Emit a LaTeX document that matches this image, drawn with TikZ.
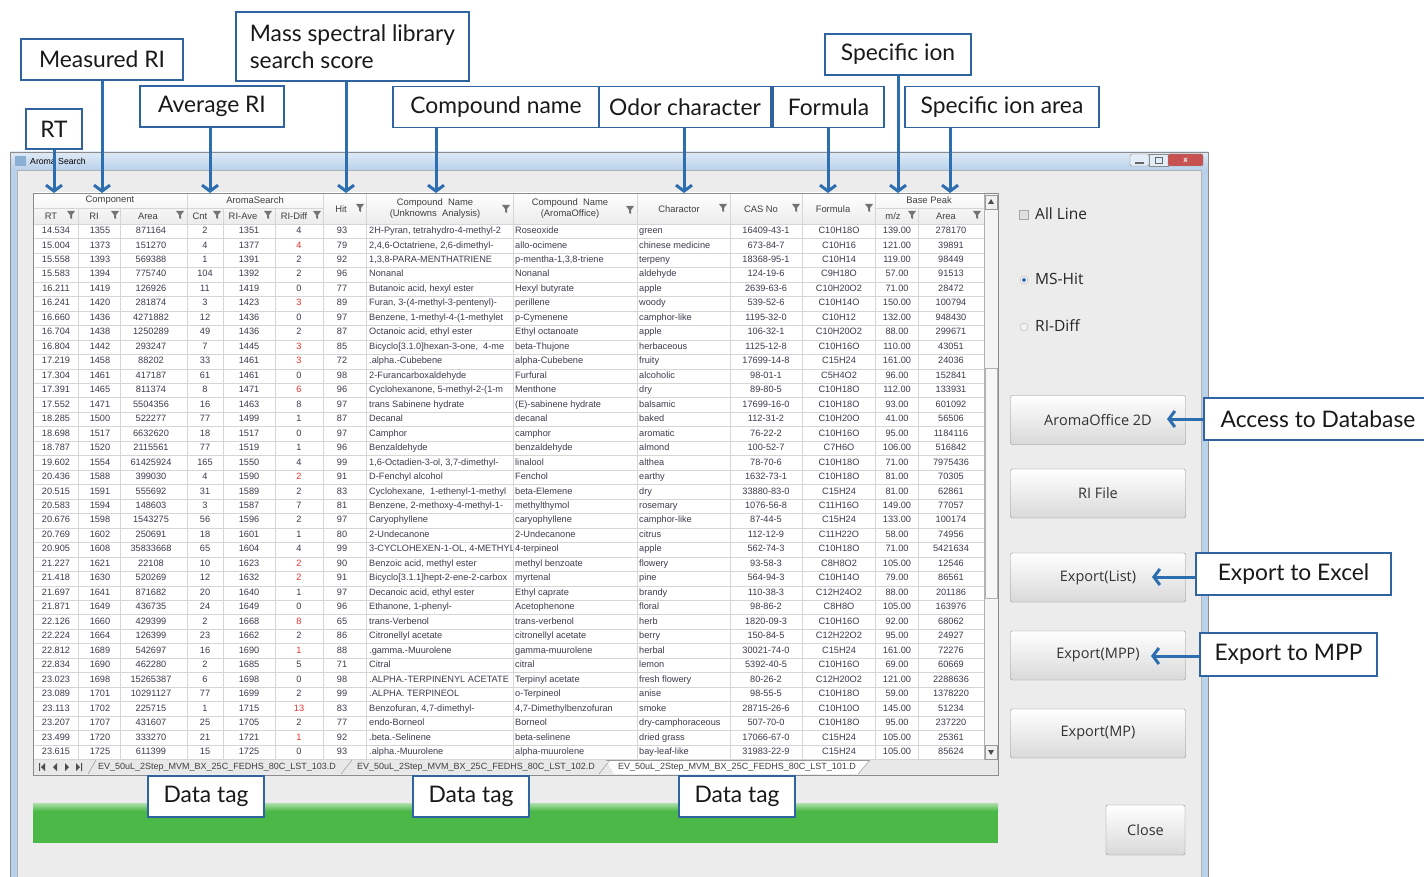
\documentclass[tikz,border=0pt]{standalone}
\usepackage{fontspec}
\setmainfont{Liberation Sans}
\newfontfamily\lblfont{Lato}
\newfontfamily\uifont{Open Sans}
\usetikzlibrary{arrows.meta,positioning,calc}

\definecolor{boxblue}{RGB}{47,100,160}
\definecolor{arrblue}{RGB}{44,110,176}
\definecolor{winframe}{RGB}{185,209,234}
\definecolor{client}{RGB}{236,236,236}
\definecolor{gridc}{RGB}{214,214,214}
\definecolor{hdrfill}{RGB}{236,236,236}
\definecolor{celltxt}{RGB}{60,60,78}
\definecolor{diffred}{RGB}{228,50,45}
\definecolor{greenbar}{RGB}{76,184,72}
\definecolor{btnline}{RGB}{140,140,140}

\tikzset{
  lbl/.style={draw=boxblue, line width=1.6pt, fill=white, inner sep=0pt, minimum height=41pt,
    font=\lblfont\fontsize{22.8}{27}\selectfont, text=black!90},
  callout/.style={draw=arrblue, line width=3pt, -{Straight Barb[length=6pt,width=16pt]}},
  cell/.style={font=\fontsize{9.2}{11}\selectfont, text=celltxt, inner sep=0pt, text height=6.6pt, text depth=1.9pt},
  hdr/.style={font=\fontsize{9.4}{11}\selectfont, text=black!75, inner sep=0pt, align=center},
  btn/.style={draw=btnline, rounded corners=2pt, top color=white, bottom color=black!15,
    minimum width=175pt, minimum height=49pt, font=\uifont\fontsize{14.5}{17}\selectfont, text=black!80},
  opt/.style={font=\uifont\fontsize{15.5}{17}\selectfont, text=black!85, anchor=west, inner sep=0pt},
  tabtext/.style={font=\fontsize{9}{10}\selectfont, text=black!75, inner sep=0pt},
  funnel/.pic={\fill[black!55] (-4,-4) -- (4,-4) -- (1,0) -- (1,4) -- (-1,3) -- (-1,0) -- cycle;}
}

\begin{document}
\begin{tikzpicture}[x=1pt, y=-1pt]
\useasboundingbox (0,0) rectangle (1424,877);
\fill[white] (0,0) rectangle (1424,877);

% window
\fill[winframe] (10,152) rectangle (1208,877);
\shade[top color=winframe!45, bottom color=winframe] (10,152) rectangle (1208,170);
\draw[black!45] (10,877) -- (10,152) -- (1208,152) -- (1208,877);
\fill[client] (17,170) rectangle (1201,877);
\draw[black!30] (17,877) -- (17,170) -- (1201,170) -- (1201,877);
\fill[arrblue!55] (15,156) rectangle (26,166);
\node[font=\fontsize{8.7}{9}\selectfont, anchor=west, inner sep=0pt] (title) at (30,161) {Aroma Search};
\node[draw=black!45, fill=winframe!40, rounded corners=1.5pt, minimum width=19pt, minimum height=12pt, inner sep=0pt] (wmin) at (1139.5,160) {};
\node[draw=black!45, fill=winframe!40, minimum width=19pt, minimum height=12pt, inner sep=0pt] (wmax) at (1158.5,160) {};
\node[draw=black!45, fill={rgb,255:red,199;green,80;blue,80}, rounded corners=1.5pt, minimum width=35pt, minimum height=12pt, inner sep=0pt,
  text=white, font=\bfseries\fontsize{8}{8}\selectfont] (wclose) at (1185.5,160) {x};
\draw[black!60, line width=1.2pt] (1135,163) -- (1144,163);
\draw[black!60] (1155,157) rectangle (1162,163);

% table
\fill[white] (34,193) rectangle (984,760);
\shade[top color=white, bottom color=hdrfill] (34,193) rectangle (984,224);
\foreach \r in {0,...,37}
  \draw[gridc] (34,224+\r*14.47) -- (984,224+\r*14.47);
\foreach \x in {187,323,366,513,637,730,802,875}
  \draw[gridc] (\x,193) -- (\x,759.4);
\foreach \x in {78,120,223,275,918}
  \draw[gridc] (\x,208) -- (\x,759.4);
\draw[gridc] (34,208) -- (323,208);
\draw[gridc] (875,208) -- (984,208);

% header
\node[hdr] (hcomp) at (110,200.5) {Component};
\node[hdr] (hsearch) at (255,200.5) {AromaSearch};
\node[hdr] (hpeak) at (929,200.5) {Base Peak};
\foreach \hx/\hy/\hlab/\fx [count=\i] in {51/216/RT/71, 94/216/RI/115, 148/216/Area/180, 200/216/Cnt/217,
    243/216/RI-Ave/268, 294/216/RI-Diff/317, 893/216/m\slash z/912, 946/216/Area/977,
    341/209/Hit/360, 679/209/Charactor/723, 761/209/CAS No/796, 833/209/Formula/869}{
  \node[hdr] (h\i) at (\hx,\hy) {\hlab};
  \pic at (\fx,\hy-1) {funnel};
}
\node[hdr] (hunk) at (435,209) {Compound\ \ Name\\(Unknowns\ \ Analysis)};
\pic at (506,209) {funnel};
\node[hdr] (hao) at (570,209) {Compound\ \ Name\\(AromaOffice)};
\pic at (630,210) {funnel};

% rows
\foreach \rt/\ri/\area/\cnt/\ave/\dif/\dc/\hit/\cu/\ca/\chr/\cas/\fm/\mz/\pa [count=\r] in {
14.534/1355/871164/2/1351/4/celltxt/93/{2H-Pyran, tetrahydro-4-methyl-2}/Roseoxide/green/16409-43-1/C10H18O/139.00/278170,
15.004/1373/151270/4/1377/4/diffred/79/{2,4,6-Octatriene, 2,6-dimethyl-}/allo-ocimene/chinese medicine/673-84-7/C10H16/121.00/39891,
15.558/1393/569388/1/1391/2/celltxt/92/{1,3,8-PARA-MENTHATRIENE}/{p-mentha-1,3,8-triene}/terpeny/18368-95-1/C10H14/119.00/98449,
15.583/1394/775740/104/1392/2/celltxt/96/Nonanal/Nonanal/aldehyde/124-19-6/C9H18O/57.00/91513,
16.211/1419/126926/11/1419/0/celltxt/77/{Butanoic acid, hexyl ester}/Hexyl butyrate/apple/2639-63-6/C10H20O2/71.00/28472,
16.241/1420/281874/3/1423/3/diffred/89/{Furan, 3-(4-methyl-3-pentenyl)-}/perillene/woody/539-52-6/C10H14O/150.00/100794,
16.660/1436/4271882/12/1436/0/celltxt/97/{Benzene, 1-methyl-4-(1-methylet}/p-Cymenene/camphor-like/1195-32-0/C10H12/132.00/948430,
16.704/1438/1250289/49/1436/2/celltxt/87/{Octanoic acid, ethyl ester}/Ethyl octanoate/apple/106-32-1/C10H20O2/88.00/299671,
16.804/1442/293247/7/1445/3/diffred/85/{Bicyclo[3.1.0]hexan-3-one,\ \ 4-me}/beta-Thujone/herbaceous/1125-12-8/C10H16O/110.00/43051,
17.219/1458/88202/33/1461/3/diffred/72/.alpha.-Cubebene/alpha-Cubebene/fruity/17699-14-8/C15H24/161.00/24036,
17.304/1461/417187/61/1461/0/celltxt/98/2-Furancarboxaldehyde/Furfural/alcoholic/98-01-1/C5H4O2/96.00/152841,
17.391/1465/811374/8/1471/6/diffred/96/{Cyclohexanone, 5-methyl-2-(1-m}/Menthone/dry/89-80-5/C10H18O/112.00/133931,
17.552/1471/5504356/16/1463/8/celltxt/97/trans Sabinene hydrate/{(E)-sabinene hydrate}/balsamic/17699-16-0/C10H18O/93.00/601092,
18.285/1500/522277/77/1499/1/celltxt/87/Decanal/decanal/baked/112-31-2/C10H20O/41.00/56506,
18.698/1517/6632620/18/1517/0/celltxt/97/Camphor/camphor/aromatic/76-22-2/C10H16O/95.00/1184116,
18.787/1520/2115561/77/1519/1/celltxt/96/Benzaldehyde/benzaldehyde/almond/100-52-7/C7H6O/106.00/516842,
19.602/1554/61425924/165/1550/4/celltxt/99/{1,6-Octadien-3-ol, 3,7-dimethyl-}/linalool/althea/78-70-6/C10H18O/71.00/7975436,
20.436/1588/399030/4/1590/2/diffred/91/D-Fenchyl alcohol/Fenchol/earthy/1632-73-1/C10H18O/81.00/70305,
20.515/1591/555692/31/1589/2/celltxt/83/{Cyclohexane,\ \ 1-ethenyl-1-methyl}/beta-Elemene/dry/33880-83-0/C15H24/81.00/62861,
20.583/1594/148603/3/1587/7/celltxt/81/{Benzene, 2-methoxy-4-methyl-1-}/methylthymol/rosemary/1076-56-8/C11H16O/149.00/77057,
20.676/1598/1543275/56/1596/2/celltxt/97/Caryophyllene/caryophyllene/camphor-like/87-44-5/C15H24/133.00/100174,
20.769/1602/250691/18/1601/1/celltxt/80/2-Undecanone/2-Undecanone/citrus/112-12-9/C11H22O/58.00/74956,
20.905/1608/35833668/65/1604/4/celltxt/99/{3-CYCLOHEXEN-1-OL, 4-METHYL-}/4-terpineol/apple/562-74-3/C10H18O/71.00/5421634,
21.227/1621/22108/10/1623/2/diffred/90/{Benzoic acid, methyl ester}/methyl benzoate/flowery/93-58-3/C8H8O2/105.00/12546,
21.418/1630/520269/12/1632/2/diffred/91/Bicyclo[3.1.1]hept-2-ene-2-carbox/myrtenal/pine/564-94-3/C10H14O/79.00/86561,
21.697/1641/871682/20/1640/1/celltxt/97/{Decanoic acid, ethyl ester}/Ethyl caprate/brandy/110-38-3/C12H24O2/88.00/201186,
21.871/1649/436735/24/1649/0/celltxt/96/{Ethanone, 1-phenyl-}/Acetophenone/floral/98-86-2/C8H8O/105.00/163976,
22.126/1660/429399/2/1668/8/diffred/65/trans-Verbenol/trans-verbenol/herb/1820-09-3/C10H16O/92.00/68062,
22.224/1664/126399/23/1662/2/celltxt/86/Citronellyl acetate/citronellyl acetate/berry/150-84-5/C12H22O2/95.00/24927,
22.812/1689/542697/16/1690/1/diffred/88/.gamma.-Muurolene/gamma-muurolene/herbal/30021-74-0/C15H24/161.00/72276,
22.834/1690/462280/2/1685/5/celltxt/71/Citral/citral/lemon/5392-40-5/C10H16O/69.00/60669,
23.023/1698/15265387/6/1698/0/celltxt/98/.ALPHA.-TERPINENYL ACETATE/Terpinyl acetate/fresh flowery/80-26-2/C12H20O2/121.00/2288636,
23.089/1701/10291127/77/1699/2/celltxt/99/.ALPHA. TERPINEOL/o-Terpineol/anise/98-55-5/C10H18O/59.00/1378220,
23.113/1702/225715/1/1715/13/diffred/83/{Benzofuran, 4,7-dimethyl-}/{4,7-Dimethylbenzofuran}/smoke/28715-26-6/C10H10O/145.00/51234,
23.207/1707/431607/25/1705/2/celltxt/77/endo-Borneol/Borneol/dry-camphoraceous/507-70-0/C10H18O/95.00/237220,
23.499/1720/333270/21/1721/1/diffred/92/.beta.-Selinene/beta-selinene/dried grass/17066-67-0/C15H24/105.00/25361,
23.615/1725/611399/15/1725/0/celltxt/93/.alpha.-Muurolene/alpha-muurolene/bay-leaf-like/31983-22-9/C15H24/105.00/85624}{
  \pgfmathsetmacro\rowy{231.2+(\r-1)*14.47}
  \node[cell] (rt\r) at (56,\rowy) {\rt};
  \node[cell] (ri\r) at (100,\rowy) {\ri};
  \node[cell] (ar\r) at (151,\rowy) {\area};
  \node[cell] (cn\r) at (205,\rowy) {\cnt};
  \node[cell] (av\r) at (249,\rowy) {\ave};
  \node[cell, text=\dc] (df\r) at (299,\rowy) {\dif};
  \node[cell] (ht\r) at (342,\rowy) {\hit};
  \begin{scope}
    \clip (367,\rowy-7) rectangle (512,\rowy+7);
    \node[cell, anchor=west] (cu\r) at (369,\rowy) {\cu};
  \end{scope}
  \node[cell, anchor=west] (ca\r) at (515,\rowy) {\ca};
  \node[cell, anchor=west] (ch\r) at (639,\rowy) {\chr};
  \node[cell] (cs\r) at (766,\rowy) {\cas};
  \node[cell] (fm\r) at (839,\rowy) {\fm};
  \node[cell] (mz\r) at (897,\rowy) {\mz};
  \node[cell] (pa\r) at (951,\rowy) {\pa};
}

% scrollbar
\fill[black!4] (984,193) rectangle (998,760);
\draw[black!30] (984,193) -- (984,760);
\draw[black!40, fill=black!6] (985,195) rectangle (997,209);
\fill[black!70] (988,204) -- (994,204) -- (991,199) -- cycle;
\draw[black!40, fill=black!6] (985,745) rectangle (997,759);
\fill[black!70] (988,750) -- (994,750) -- (991,755) -- cycle;
\draw[black!30, fill=black!3] (985,368) rectangle (997,598);

% sheet tabs
\fill[black!9] (34,760) rectangle (998,774);
\fill[white] (606,760) -- (870,760) -- (858,774) -- (614,774) -- cycle;
\foreach \xb/\xt in {88/96, 341/352, 599/610, 858/870}
  \draw[black!45] (\xb,774) -- (\xt,760);
\draw[black!40] (606,760) -- (870,760);
\fill[black!70] (39,763) rectangle (40,771) (41,767) -- (45,763) -- (45,771) -- cycle;
\fill[black!70] (53,767) -- (57,763) -- (57,771) -- cycle;
\fill[black!70] (65,763) -- (69,767) -- (65,771) -- cycle;
\fill[black!70] (76,763) -- (80,767) -- (76,771) -- cycle (81,763) rectangle (82,771);
\node[tabtext] (tab103) at (217,767) {EV\_50uL\_2Step\_MVM\_BX\_25C\_FEDHS\_80C\_LST\_103.D};
\node[tabtext] (tab102) at (476,767) {EV\_50uL\_2Step\_MVM\_BX\_25C\_FEDHS\_80C\_LST\_102.D};
\node[tabtext] (tab101) at (737,767) {EV\_50uL\_2Step\_MVM\_BX\_25C\_FEDHS\_80C\_LST\_101.D};
\draw[black!45] (33,193) rectangle (998,775);

% progress bar
\fill[greenbar] (33,803) rectangle (998,843);
\shade[top color=greenbar!45!white, bottom color=greenbar] (33,803) rectangle (998,811);

% options and buttons
\draw[black!35, fill=black!12] (1019,210) rectangle (1028,219);
\node[opt] (allline) at (1035,214) {All Line};
\draw[black!35, fill=white] (1024,280) circle (4);
\fill[arrblue] (1024,280) circle (2);
\node[opt] (mshit) at (1035,279) {MS-Hit};
\draw[black!30, fill=black!5] (1024,327) circle (4);
\node[opt] (ridiff) at (1035,326) {RI-Diff};
\node[btn] (aroma2d) at (1098,420) {AromaOffice 2D};
\node[btn] (rifile) at (1098,493.5) {RI File};
\node[btn] (explist) at (1098,577.5) {Export(List)};
\node[btn] (expmpp) at (1098,655.5) {Export(MPP)};
\node[btn] (expmp) at (1098,733.5) {Export(MP)};
\node[btn, minimum width=79pt, minimum height=50pt] (closebtn) at (1145.5,830) {Close};

% callout boxes
\node[lbl, minimum width=56pt, minimum height=40pt] (rtbox) at (54,129) {RT};
\node[lbl, minimum width=162pt] (mribox) at (102,59.5) {Measured RI};
\node[lbl, minimum width=233pt, minimum height=69pt, align=left] (hitbox) at (352.5,46.5) {Mass spectral library\\search score};
\node[lbl, minimum width=144pt] (aribox) at (212,106.5) {Average RI};
\node[lbl, minimum width=206pt] (cpdbox) at (496,107) {Compound name};
\node[lbl, minimum width=172pt] (odorbox) at (685,107) {Odor character};
\node[lbl, minimum width=111pt] (fmlbox) at (828.5,107) {Formula};
\node[lbl, minimum width=146pt] (ionbox) at (898,54.5) {Specific ion};
\node[lbl, minimum width=194pt] (areabox) at (1002,107) {Specific ion area};
\node[lbl, minimum width=228pt, minimum height=42pt] (dbbox) at (1318,419) {Access to Database};
\node[lbl, minimum width=195pt, minimum height=42pt] (xlsbox) at (1293.5,574) {Export to Excel};
\node[lbl, minimum width=177pt, minimum height=43pt] (mppbox) at (1288.5,654.5) {Export to MPP};
\node[lbl, minimum width=116pt] (tagA) at (206,796.5) {Data tag};
\node[lbl, minimum width=116pt] (tagB) at (471,796.5) {Data tag};
\node[lbl, minimum width=116pt] (tagC) at (737,796.5) {Data tag};

% arrow targets
\coordinate (rtcol) at (54,193);
\coordinate (ricol) at (102,193);
\coordinate (avecol) at (210,193);
\coordinate (hitcol) at (346,193);
\coordinate (cpdcol) at (436,193);
\coordinate (odorcol) at (684,193);
\coordinate (fmlcol) at (828,193);
\coordinate (mzcol) at (898,193);
\coordinate (pkcol) at (950,193);
\coordinate (dbtip) at (1167,419);
\coordinate (xlstip) at (1152,577);
\coordinate (mpptip) at (1151,656);

\draw[callout] (rtbox) -- (rtcol);
\draw[callout] (mribox) -- (ricol);
\draw[callout] (aribox.south -| avecol) -- (avecol);
\draw[callout] (hitbox.south -| hitcol) -- (hitcol);
\draw[callout] (cpdbox.south -| cpdcol) -- (cpdcol);
\draw[callout] (odorbox.south -| odorcol) -- (odorcol);
\draw[callout] (fmlbox.south -| fmlcol) -- (fmlcol);
\draw[callout] (ionbox.south -| mzcol) -- (mzcol);
\draw[callout] (areabox.south -| pkcol) -- (pkcol);
\draw[callout] (dbbox.west |- dbtip) -- (dbtip);
\draw[callout] (xlsbox.west |- xlstip) -- (xlstip);
\draw[callout] (mppbox.west |- mpptip) -- (mpptip);
\end{tikzpicture}
\end{document}
